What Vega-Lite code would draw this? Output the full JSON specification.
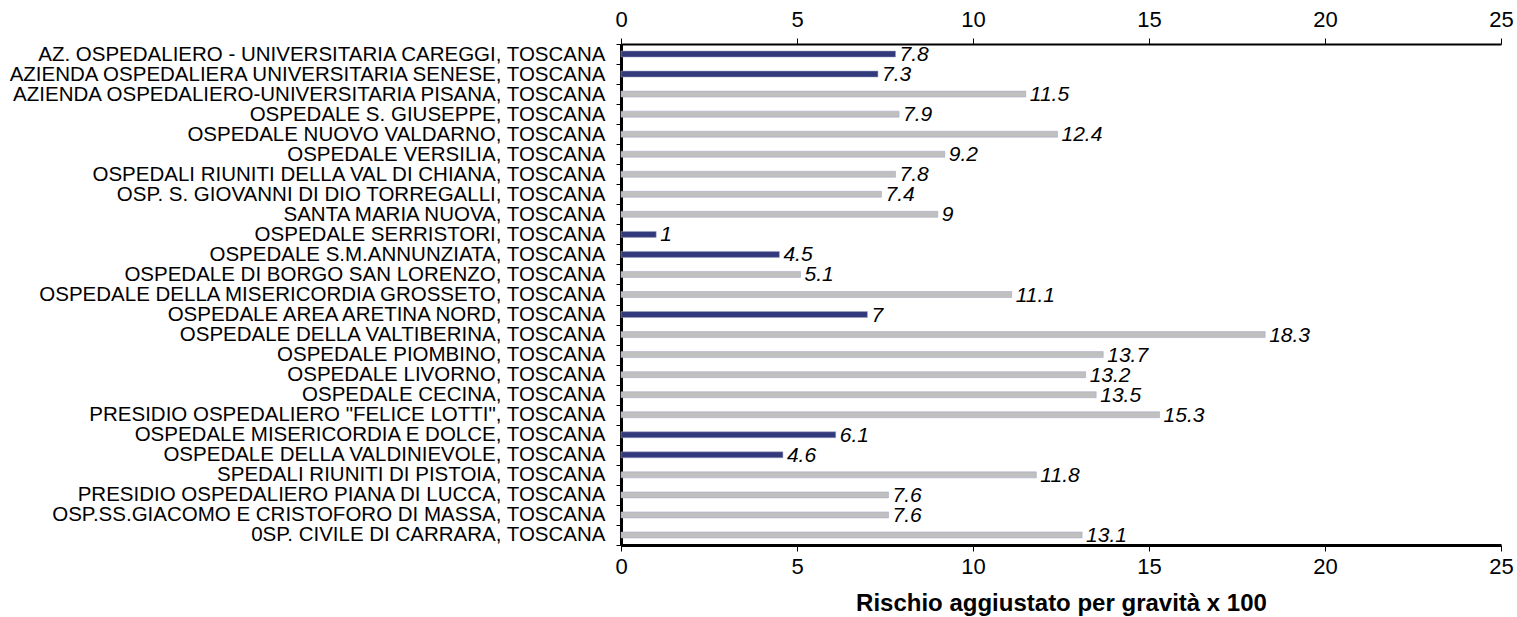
{
  "$schema": "https://vega.github.io/schema/vega-lite/v6.json",
  "width": 880,
  "height": 501,
  "autosize": {"type": "none"},
  "padding": {"left": 621, "top": 44, "right": 16, "bottom": 72},
  "background": "white",
  "config": {"view": {"stroke": null}, "font": "Liberation Sans"},
  "data": {"values": [
    {"name": "AZ. OSPEDALIERO - UNIVERSITARIA CAREGGI, TOSCANA", "value": 7.8, "group": "low"},
    {"name": "AZIENDA OSPEDALIERA UNIVERSITARIA SENESE, TOSCANA", "value": 7.3, "group": "low"},
    {"name": "AZIENDA OSPEDALIERO-UNIVERSITARIA PISANA, TOSCANA", "value": 11.5, "group": "other"},
    {"name": "OSPEDALE S. GIUSEPPE, TOSCANA", "value": 7.9, "group": "other"},
    {"name": "OSPEDALE NUOVO VALDARNO, TOSCANA", "value": 12.4, "group": "other"},
    {"name": "OSPEDALE VERSILIA, TOSCANA", "value": 9.2, "group": "other"},
    {"name": "OSPEDALI RIUNITI DELLA VAL DI CHIANA, TOSCANA", "value": 7.8, "group": "other"},
    {"name": "OSP. S. GIOVANNI DI DIO TORREGALLI, TOSCANA", "value": 7.4, "group": "other"},
    {"name": "SANTA MARIA NUOVA, TOSCANA", "value": 9, "group": "other"},
    {"name": "OSPEDALE SERRISTORI, TOSCANA", "value": 1, "group": "low"},
    {"name": "OSPEDALE S.M.ANNUNZIATA, TOSCANA", "value": 4.5, "group": "low"},
    {"name": "OSPEDALE DI BORGO SAN LORENZO, TOSCANA", "value": 5.1, "group": "other"},
    {"name": "OSPEDALE DELLA MISERICORDIA GROSSETO, TOSCANA", "value": 11.1, "group": "other"},
    {"name": "OSPEDALE AREA ARETINA NORD, TOSCANA", "value": 7, "group": "low"},
    {"name": "OSPEDALE DELLA VALTIBERINA, TOSCANA", "value": 18.3, "group": "other"},
    {"name": "OSPEDALE PIOMBINO, TOSCANA", "value": 13.7, "group": "other"},
    {"name": "OSPEDALE LIVORNO, TOSCANA", "value": 13.2, "group": "other"},
    {"name": "OSPEDALE CECINA, TOSCANA", "value": 13.5, "group": "other"},
    {"name": "PRESIDIO OSPEDALIERO \"FELICE LOTTI\", TOSCANA", "value": 15.3, "group": "other"},
    {"name": "OSPEDALE MISERICORDIA E DOLCE, TOSCANA", "value": 6.1, "group": "low"},
    {"name": "OSPEDALE DELLA VALDINIEVOLE, TOSCANA", "value": 4.6, "group": "low"},
    {"name": "SPEDALI RIUNITI DI PISTOIA, TOSCANA", "value": 11.8, "group": "other"},
    {"name": "PRESIDIO OSPEDALIERO PIANA DI LUCCA, TOSCANA", "value": 7.6, "group": "other"},
    {"name": "OSP.SS.GIACOMO E CRISTOFORO DI MASSA, TOSCANA", "value": 7.6, "group": "other"},
    {"name": "0SP. CIVILE DI CARRARA, TOSCANA", "value": 13.1, "group": "other"}
  ]},
  "encoding": {
    "y": {
      "field": "name", "type": "nominal", "sort": null,
      "scale": {"paddingInner": 0, "paddingOuter": 0},
      "axis": {
        "title": null, "domainColor": "black", "domainWidth": 3,
        "tickBand": "extent", "tickColor": "black", "tickSize": 5, "tickWidth": 1,
        "labelColor": "black", "labelFontSize": 20.5, "labelPadding": 11, "labelLimit": 700
      }
    },
    "x": {
      "field": "value", "type": "quantitative",
      "scale": {"domain": [0, 25], "nice": false, "zero": true}
    }
  },
  "layer": [
    {
      "mark": {"type": "bar", "height": 6, "stroke": "#9fa3c4", "strokeWidth": 0.5},
      "encoding": {
        "x": {
          "field": "value", "type": "quantitative",
          "axis": {
            "orient": "bottom", "title": "Rischio aggiustato per gravità x 100",
            "titleFontSize": 24, "titleFontWeight": "bold", "titleColor": "black", "titlePadding": 14,
            "values": [0, 5, 10, 15, 20, 25], "grid": false, "labelFlush": false,
            "domainColor": "black", "domainWidth": 3, "tickColor": "black", "tickSize": 6,
            "labelColor": "black", "labelFontSize": 22, "labelPadding": 5
          }
        },
        "color": {
          "field": "group", "type": "nominal", "legend": null,
          "scale": {"domain": ["low", "other"], "range": ["#333a7b", "#c0c0c0"]}
        }
      }
    },
    {
      "mark": {"type": "text", "align": "left", "baseline": "middle", "dx": 4, "dy": 1, "fontStyle": "italic", "fontSize": 21, "color": "black"},
      "encoding": {
        "x": {
          "field": "value", "type": "quantitative",
          "axis": {
            "orient": "top", "title": null, "values": [0, 5, 10, 15, 20, 25], "grid": false, "labelFlush": false,
            "domainColor": "black", "domainWidth": 2, "tickColor": "black", "tickSize": 6,
            "labelColor": "black", "labelFontSize": 22, "labelPadding": 7
          }
        },
        "text": {"field": "value", "type": "quantitative"}
      }
    }
  ],
  "resolve": {"axis": {"x": "independent"}}
}
